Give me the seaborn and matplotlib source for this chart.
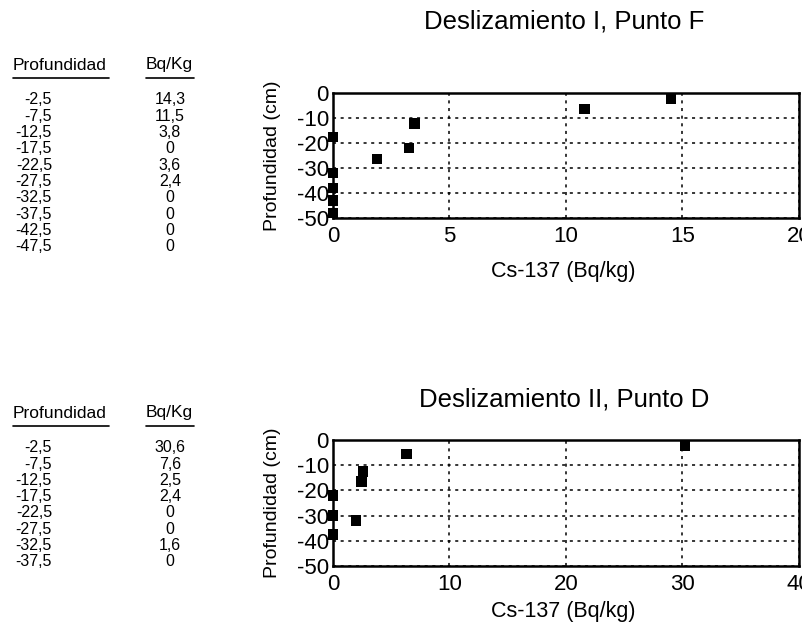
import pandas as pd
import matplotlib
matplotlib.use("Agg")
import matplotlib.pyplot as plt
import seaborn as sns

# Table values (as printed on the left)
depth_f = ['-2,5', '-7,5', '-12,5', '-17,5', '-22,5', '-27,5', '-32,5', '-37,5', '-42,5', '-47,5']
bq_f = ['14,3', '11,5', '3,8', '0', '3,6', '2,4', '0', '0', '0', '0']
depth_d = ['-2,5', '-7,5', '-12,5', '-17,5', '-22,5', '-27,5', '-32,5', '-37,5']
bq_d = ['30,6', '7,6', '2,5', '2,4', '0', '0', '1,6', '0']

# Plotted points
cs_f = [14.5, 10.8, 3.5, 0, 3.25, 1.9, 0, 0, 0, 0]
prof_f = [-2.2, -6.5, -12.2, -17.6, -22.1, -26.5, -31.9, -37.9, -43, -48]
cs_d = [30.2, 6.3, 2.6, 2.45, 0, 0, 2.0, 0]
prof_d = [-2.5, -5.5, -12.5, -16.5, -22, -30, -32, -37.5]

sns.set_style("white")
plt.rcParams['font.family'] = ['Liberation Sans', 'DejaVu Sans']
plt.rcParams['axes.unicode_minus'] = False
plt.rcParams['text.color'] = 'black'
plt.rcParams['axes.labelcolor'] = 'black'

W, H = 803, 628
fig = plt.figure(figsize=(W / 100, H / 100), dpi=100)


def px(x, y):
    return x / W, 1 - y / H


def panel(rect, xs, ys, xmax, xstep, title, title_y, xlabel_y):
    ax = fig.add_axes(rect)
    df = pd.DataFrame({'cs': xs, 'prof': ys})
    sns.scatterplot(data=df, x='cs', y='prof', marker='s', s=55, color='black',
                    edgecolor='none', ax=ax, clip_on=False, zorder=5)
    ax.set_xlim(0, xmax)
    ax.set_ylim(-50, 0)
    ax.set_xticks(range(0, xmax + 1, xstep))
    ax.set_yticks(range(-50, 1, 10))
    ax.grid(True, color='black', linestyle=(0, (2, 3)), linewidth=1.1)
    for s in ax.spines.values():
        s.set_color('black')
        s.set_linewidth(1.8)
    ax.tick_params(direction='in', length=3, width=1, labelsize=16, colors='black')
    ax.tick_params(axis='x', pad=6)
    ax.tick_params(axis='y', pad=3)
    ax.set_xlabel('')
    ax.set_ylabel('Profundidad (cm)', fontsize=14)
    ax.yaxis.set_label_coords(-0.112, 0.5)
    fig.text(*px(563, xlabel_y), 'Cs-137 (Bq/kg)', ha='center', va='center', fontsize=15.5)
    fig.text(*px(564, title_y), title, ha='center', va='center', fontsize=18.5)
    return ax


def table(top, depths, bqs, step):
    fig.text(*px(13, top), 'Profundidad', ha='left', va='center', fontsize=12.5)
    fig.text(*px(146, top), 'Bq/Kg', ha='left', va='center', fontsize=12.5)
    fig.lines.append(plt.Line2D([13 / W, 109 / W], [1 - (top + 13) / H] * 2,
                                color='black', lw=1.2, transform=fig.transFigure))
    fig.lines.append(plt.Line2D([146 / W, 194 / W], [1 - (top + 13) / H] * 2,
                                color='black', lw=1.2, transform=fig.transFigure))
    for i, (d, b) in enumerate(zip(depths, bqs)):
        y = top + 35 + i * step
        fig.text(*px(52, y), d, ha='right', va='center', fontsize=11.5)
        fig.text(*px(170, y), b, ha='center', va='center', fontsize=11.5)


panel([333 / W, 1 - 218 / H, 466 / W, 125 / H], cs_f, prof_f, 20, 5,
      'Deslizamiento I, Punto F', 22, 271)
panel([333 / W, 1 - 566 / H, 466 / W, 126 / H], cs_d, prof_d, 40, 10,
      'Deslizamiento II, Punto D', 399, 612)

table(65, depth_f, bq_f, 16.3)
table(413, depth_d, bq_d, 16.2)

fig.savefig('out.png', dpi=100)
